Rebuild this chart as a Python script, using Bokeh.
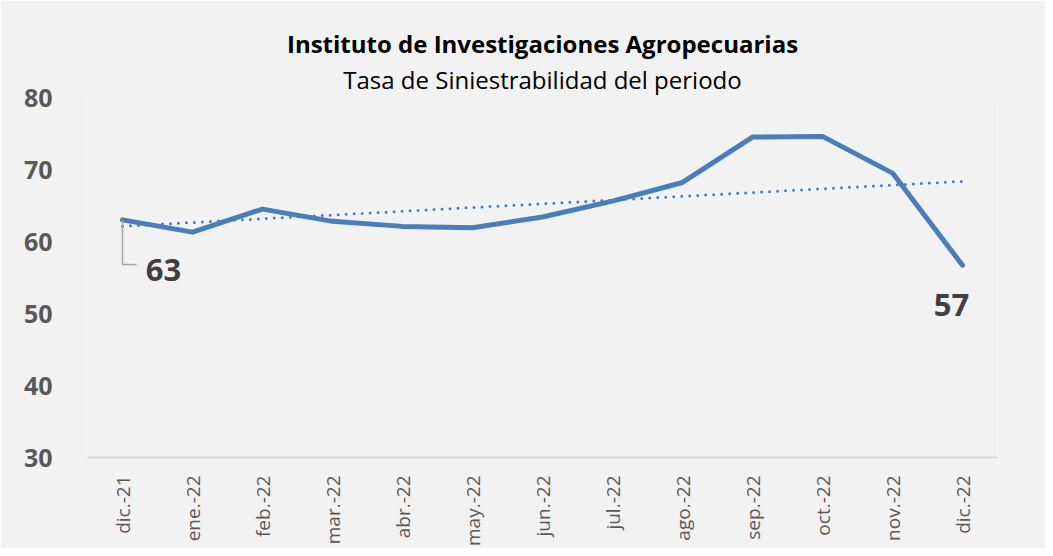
import numpy as np
from bokeh.plotting import figure
from bokeh.models import Range1d, ColumnDataSource, Title
from bokeh.core.properties import value
from bokeh.embed import file_html
from bokeh.resources import INLINE

months = ["dic.-21", "ene.-22", "feb.-22", "mar.-22", "abr.-22", "may.-22", "jun.-22",
          "jul.-22", "ago.-22", "sep.-22", "oct.-22", "nov.-22", "dic.-22"]
tasa = [63.0, 61.3, 64.5, 62.8, 62.1, 61.9, 63.4, 65.6, 68.2, 74.5, 74.6, 69.5, 56.7]
title_text = "Instituto de Investigaciones Agropecuarias"
subtitle_text = "Tasa de Siniestrabilidad del periodo"

# linear trend (Excel-style trendline) from the series
idx = np.arange(len(tasa))
coef = np.polyfit(idx, tasa, 1)
trend = list(np.polyval(coef, idx))

FONT = "Open Sans"
p = figure(x_range=months, y_range=Range1d(30, 80), width=1045, height=548,
           output_backend="svg", toolbar_location=None,
           min_border_left=87, min_border_right=48, min_border_top=97, min_border_bottom=80)
p.background_fill_color = "#F2F2F2"
p.border_fill_color = "#F2F2F2"
p.outline_line_color = None
p.x_range.range_padding = 0
p.grid.visible = False

p.yaxis.ticker = [30, 40, 50, 60, 70, 80]
p.yaxis.axis_line_color = None
p.yaxis.major_tick_line_color = None
p.yaxis.minor_tick_line_color = None
p.yaxis.major_label_standoff = 29
p.yaxis.major_label_text_font = FONT
p.yaxis.major_label_text_font_style = "bold"
p.yaxis.major_label_text_font_size = "25px"
p.yaxis.major_label_text_color = "#595959"

p.xaxis.axis_line_color = "#D9D9D9"
p.xaxis.axis_line_width = 2
p.xaxis.major_tick_line_color = None
p.xaxis.minor_tick_line_color = None
p.xaxis.major_label_orientation = np.pi / 2
p.xaxis.major_label_standoff = 12
p.xaxis.major_label_text_font = FONT
p.xaxis.major_label_text_font_size = "19px"
p.xaxis.major_label_text_color = "#595959"

blue = "#4A7EBB"
p.line(months, trend, line_color=blue, line_width=3, line_dash="0 8", line_cap="round")
p.line(months, tasa, line_color=blue, line_width=5, line_join="round", line_cap="round")

# leader line for the first data label
p.line([months[0], months[0], (months[0], 0.2)], [tasa[0], tasa[0] - 6.2, tasa[0] - 6.2],
       line_color="#A6A6A6", line_width=1.5)

src = ColumnDataSource(dict(x=[months[0], months[-1]], y=[tasa[0], tasa[-1]],
                            t=[str(round(tasa[0])), str(round(tasa[-1]))],
                            xo=[41, -11], yo=[50, 40]))
p.text(x="x", y="y", text="t", x_offset="xo", y_offset="yo", source=src,
       text_font=value(FONT), text_font_style="bold", text_font_size="31px",
       text_color="#404040", text_align="center", text_baseline="middle")

p.add_layout(Title(text=subtitle_text, align="center", text_font=FONT,
                   text_font_size="24px", text_font_style="normal",
                   text_color="#000000", standoff=4), "above")
p.add_layout(Title(text=title_text, align="center", text_font=FONT,
                   text_font_size="24px", text_font_style="bold",
                   text_color="#000000", standoff=-2), "above")

open("out.html", "w").write(file_html(p, INLINE))
